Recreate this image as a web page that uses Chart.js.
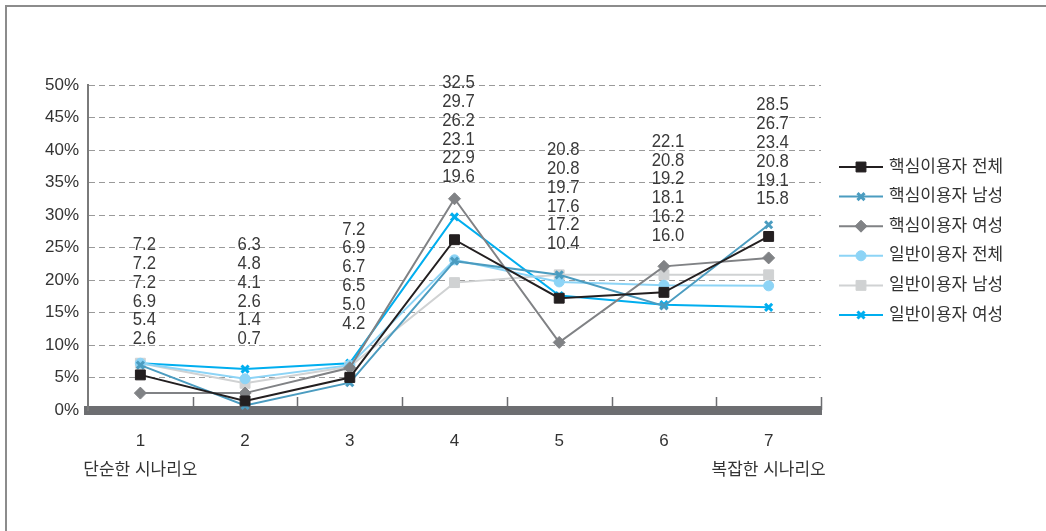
<html>
    <head>
        <style>
            body { margin: 0; background: #fff; }
        </style>
        <script src="https://cdn.jsdelivr.net/npm/chart.js"></script>
    </head>
    <body>
        <canvas id="chart" width="1046" height="531"></canvas>
        <script>
            // x axis: scenario complexity 1..7, ends annotated
            var scenarioLabels = [['1', '단순한 시나리오'], '2', '3', '4', '5', '6', ['7', '복잡한 시나리오']];
            var seriesNames = ['핵심이용자 전체', '핵심이용자 남성', '핵심이용자 여성',
                               '일반이용자 전체', '일반이용자 남성', '일반이용자 여성'];

            // percentages per scenario
            var coreAll       = [5.4, 1.4, 5.0, 26.2, 17.2, 18.1, 26.7];
            var coreMale      = [6.9, 0.7, 4.2, 22.9, 20.8, 16.0, 28.5];
            var coreFemale    = [2.6, 2.6, 6.5, 32.5, 10.4, 22.1, 23.4];
            var generalAll    = [7.2, 4.8, 6.9, 23.1, 19.7, 19.2, 19.1];
            var generalMale   = [7.2, 4.1, 6.7, 19.6, 20.8, 20.8, 20.8];
            var generalFemale = [7.2, 6.3, 7.2, 29.7, 17.6, 16.2, 15.8];

            var yTicks = [0, 5, 10, 15, 20, 25, 30, 35, 40, 45, 50];

            // where each column of value labels starts (in % on the y axis)
            var labelAnchor = [25.4, 25.4, 27.8, 50.3, 40.0, 41.3, 46.9];

            var seriesValues = [coreAll, coreMale, coreFemale, generalAll, generalMale, generalFemale];
            var seriesColors = ['#231f20', '#4b9cc0', '#808285', '#8dd4f6', '#d0d2d3', '#00aeef'];
            var seriesMarkers = [
                { style: 'rect', radius: 7, border: 1 },
                { style: 'crossRot', radius: 5, border: 3 },
                { style: 'rectRot', radius: 6, border: 1 },
                { style: 'circle', radius: 5, border: 1 },
                { style: 'rect', radius: 7, border: 1 },
                { style: 'crossRot', radius: 5, border: 3 }
            ];

            var textColor = '#333333';
            var baseFont = '"Liberation Sans", "Noto Sans CJK KR", sans-serif';

            // outer frame: top and left rules
            var framePlugin = {
                id: 'frame',
                beforeDraw: function(chart) {
                    var ctx = chart.ctx;
                    ctx.save();
                    ctx.strokeStyle = '#8c8c8c';
                    ctx.lineWidth = 2;
                    ctx.beginPath();
                    ctx.moveTo(6, chart.height);
                    ctx.lineTo(6, 6);
                    ctx.lineTo(chart.width, 6);
                    ctx.stroke();
                    ctx.restore();
                }
            };

            // short category separators standing on the x axis bar
            var separatorPlugin = {
                id: 'separators',
                beforeDatasetsDraw: function(chart) {
                    var ctx = chart.ctx;
                    var x = chart.scales.x;
                    var bottom = chart.chartArea.bottom;
                    var step = x.getPixelForValue(1) - x.getPixelForValue(0);
                    ctx.save();
                    ctx.strokeStyle = '#6d6e71';
                    ctx.lineWidth = 1.5;
                    ctx.beginPath();
                    for (var i = 0; i < scenarioLabels.length; i++) {
                        var px = Math.round(x.getPixelForValue(i) + step / 2) + 0.5;
                        ctx.moveTo(px, bottom - 13);
                        ctx.lineTo(px, bottom);
                    }
                    ctx.stroke();
                    ctx.restore();
                }
            };

            // stacked value labels above each scenario, largest first
            var valueStackPlugin = {
                id: 'valueStack',
                afterDatasetsDraw: function(chart) {
                    var ctx = chart.ctx;
                    var x = chart.scales.x;
                    var y = chart.scales.y;
                    var lineHeight = 18.8;
                    ctx.save();
                    ctx.fillStyle = '#3a3a3a';
                    ctx.font = '19px "Liberation Sans", sans-serif';
                    ctx.textAlign = 'center';
                    ctx.textBaseline = 'middle';
                    for (var i = 0; i < scenarioLabels.length; i++) {
                        var vals = seriesValues.map(function(s) { return s[i]; });
                        vals.sort(function(a, b) { return b - a; });
                        var cx = x.getPixelForValue(i) + 4;
                        var top = y.getPixelForValue(labelAnchor[i]);
                        for (var j = 0; j < vals.length; j++) {
                            ctx.save();
                            ctx.translate(cx, top + j * lineHeight);
                            ctx.scale(0.88, 1);
                            ctx.fillText(vals[j].toFixed(1), 0, 0);
                            ctx.restore();
                        }
                    }
                    ctx.restore();
                }
            };

            // legend on the right: line sample with marker, then name
            var legendPlugin = {
                id: 'sideLegend',
                afterDraw: function(chart) {
                    var ctx = chart.ctx;
                    var left = 839, lineLen = 44, textX = 889;
                    var top = 167, rowGap = 29.6;
                    ctx.save();
                    ctx.font = '17px ' + baseFont;
                    ctx.textBaseline = 'middle';
                    ctx.textAlign = 'left';
                    for (var i = 0; i < seriesNames.length; i++) {
                        var rowY = top + i * rowGap;
                        ctx.strokeStyle = seriesColors[i];
                        ctx.fillStyle = seriesColors[i];
                        ctx.lineWidth = 2;
                        ctx.beginPath();
                        ctx.moveTo(left, rowY);
                        ctx.lineTo(left + lineLen, rowY);
                        ctx.stroke();
                        ctx.lineWidth = seriesMarkers[i].border;
                        Chart.helpers.drawPoint(ctx, {
                            pointStyle: seriesMarkers[i].style,
                            radius: seriesMarkers[i].radius,
                            borderWidth: seriesMarkers[i].border,
                            rotation: 0
                        }, left + lineLen / 2, rowY);
                        ctx.fillStyle = textColor;
                        ctx.fillText(seriesNames[i], textX, rowY);
                    }
                    ctx.restore();
                }
            };

            var datasets = seriesNames.map(function(name, i) {
                return {
                    label: name,
                    data: seriesValues[i],
                    borderColor: seriesColors[i],
                    backgroundColor: seriesColors[i],
                    borderWidth: 2,
                    pointStyle: seriesMarkers[i].style,
                    pointRadius: seriesMarkers[i].radius,
                    pointHoverRadius: seriesMarkers[i].radius,
                    pointBorderWidth: seriesMarkers[i].border,
                    pointBackgroundColor: seriesColors[i],
                    pointBorderColor: seriesColors[i],
                    tension: 0
                };
            });

            var ctx = document.getElementById('chart').getContext('2d');
            var myChart = new Chart(ctx, {
                type: 'line',
                data: {
                    labels: scenarioLabels,
                    datasets: datasets
                },
                options: {
                    responsive: false,
                    animation: false,
                    layout: {
                        padding: { left: 42, top: 85, right: 225, bottom: 0 }
                    },
                    plugins: {
                        legend: { display: false },
                        tooltip: { enabled: false }
                    },
                    scales: {
                        x: {
                            offset: true,
                            grid: { display: false },
                            border: { display: true, width: 9, color: '#6d6e71' },
                            ticks: {
                                color: textColor,
                                padding: 9,
                                autoSkip: false,
                                maxRotation: 0,
                                font: { family: baseFont, size: 17, lineHeight: '29px' }
                            },
                            afterFit: function(scale) { scale.height = 121; }
                        },
                        y: {
                            min: 0,
                            max: 50,
                            afterBuildTicks: function(scale) {
                                scale.ticks = yTicks.map(function(v) { return { value: v }; });
                            },
                            grid: {
                                color: '#9a9a9a',
                                lineWidth: 1,
                                drawTicks: false
                            },
                            border: { display: true, width: 2, color: '#7a7a7a', dash: [6, 4] },
                            ticks: {
                                color: textColor,
                                padding: 9,
                                font: { family: baseFont, size: 17 },
                                callback: function(v) { return v + '%'; }
                            },
                            afterFit: function(scale) { scale.width = 46; }
                        }
                    }
                },
                plugins: [framePlugin, separatorPlugin, valueStackPlugin, legendPlugin]
            });
        </script>
    </body>
</html>
